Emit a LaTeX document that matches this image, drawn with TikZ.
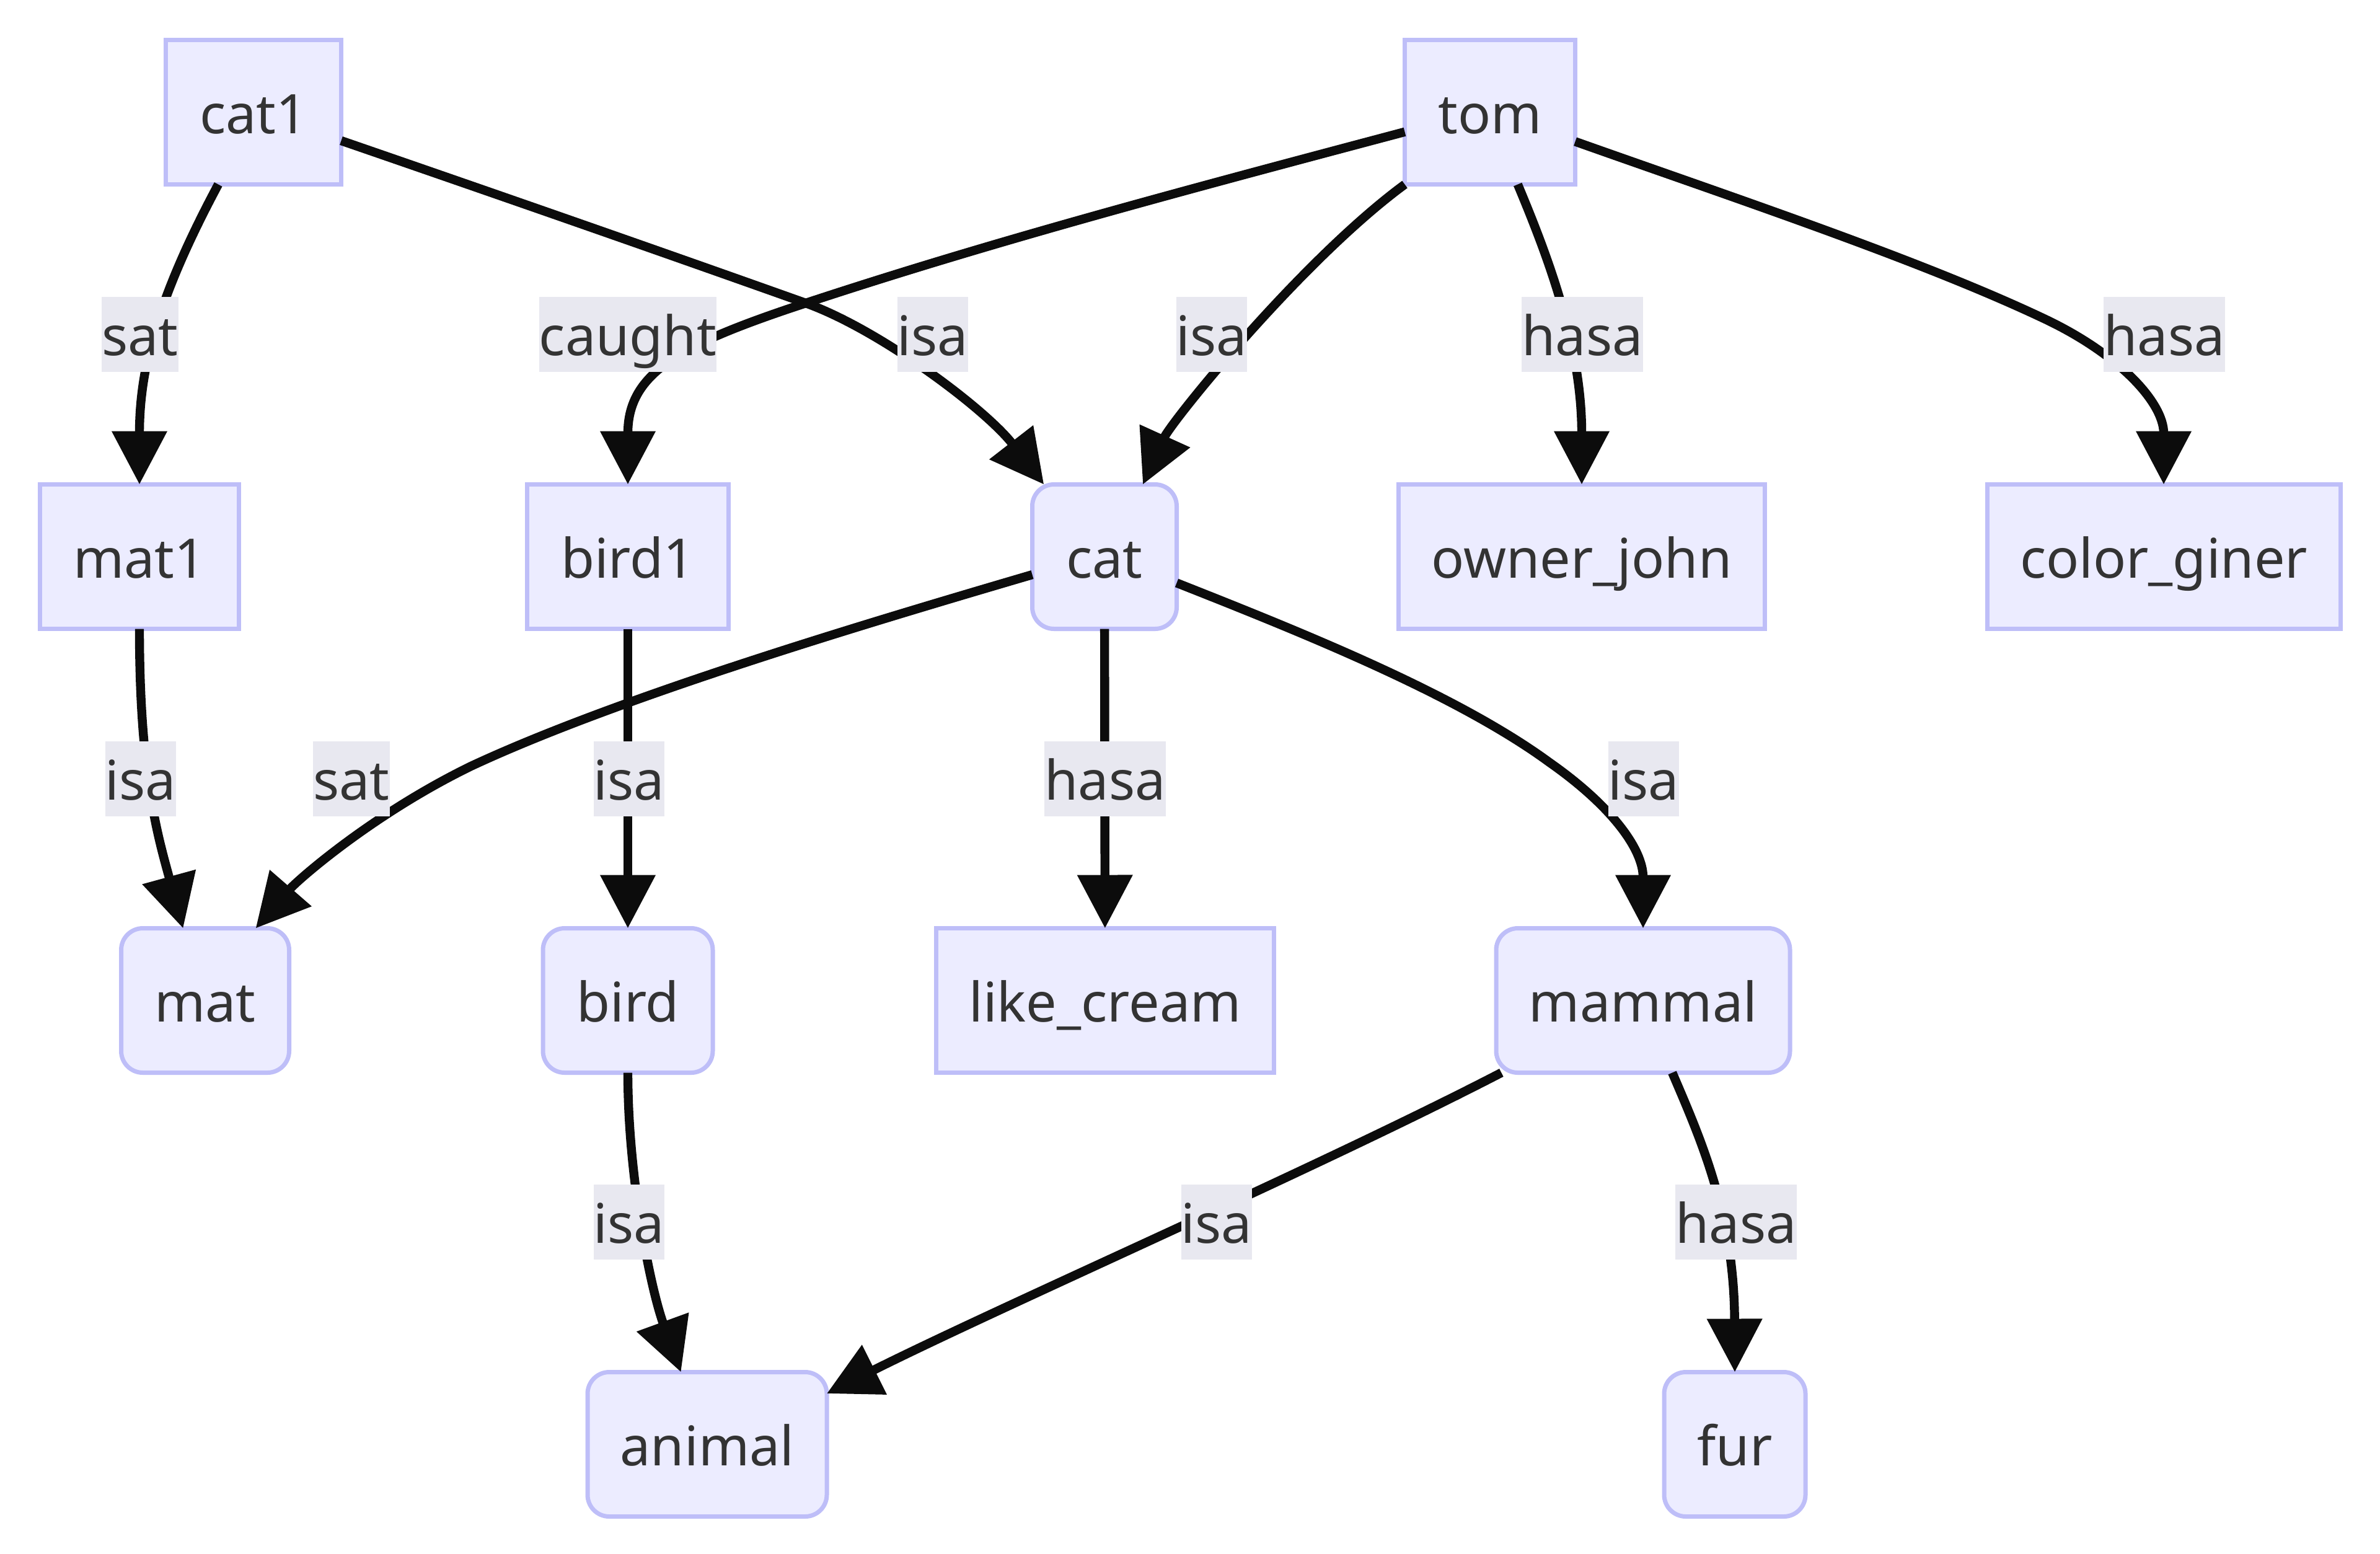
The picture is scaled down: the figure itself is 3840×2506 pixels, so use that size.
\documentclass[tikz,border=0pt]{standalone}
\usepackage{fontspec}
\setmainfont{Noto Sans}
\usetikzlibrary{arrows.meta}
\definecolor{nodefill}{RGB}{236,236,255}
\definecolor{nodeborder}{RGB}{190,190,248}
\definecolor{lblbg}{RGB}{232,232,240}
\definecolor{txt}{RGB}{51,51,51}
\definecolor{edgec}{RGB}{12,12,12}
\tikzset{
  box/.style={draw=nodeborder, fill=nodefill, line width=1.75pt, minimum height=58.25pt,
    inner sep=0pt, outer sep=0pt, text=txt, font=\fontsize{22}{26}\selectfont,
    text height=22pt, text depth=4.8pt},
  rbox/.style={box, rounded corners=8.75pt},
  lbl/.style={fill=lblbg, inner sep=0pt, outer sep=0pt, minimum height=30.25pt,
    text=txt, font=\fontsize{22}{26}\selectfont, text height=22pt, text depth=4.8pt},
  edge/.style={draw=edgec, line width=3.6pt, -{Triangle[length=21.5pt,width=21.5pt]}},
}
\begin{document}
\begin{tikzpicture}[x=0.25pt, y=-0.25pt]
\fill[white] (0,0) rectangle (3840,2506);
\useasboundingbox (0,0) rectangle (3840,2506);

% nodes
\node[box, minimum width=70.75pt] (cat1) at (409,181) {cat1};
\node[box, minimum width=68.75pt] (tom) at (2404,181) {tom};
\node[box, minimum width=80.25pt] (mat1) at (225,898) {mat1};
\node[box, minimum width=81.25pt] (bird1) at (1013,898) {bird1};
\node[rbox, minimum width=58.25pt] (cat) at (1782,898) {cat};
\node[box, minimum width=147.75pt] (owner_john) at (2552,898) {owner\_john};
\node[box, minimum width=142.5pt] (color_giner) at (3491,898) {color\_giner};
\node[rbox, minimum width=67.75pt] (mat) at (331,1614) {mat};
\node[rbox, minimum width=68.5pt] (bird) at (1013,1614) {bird};
\node[box, minimum width=136.25pt] (like_cream) at (1783,1614) {like\_cream};
\node[rbox, minimum width=118.5pt] (mammal) at (2651,1614) {mammal};
\node[rbox, minimum width=96.5pt] (animal) at (1141,2330) {animal};
\node[rbox, minimum width=57pt] (fur) at (2799,2330) {fur};

% edges
\draw[edge] (cat1.244) .. controls (260,470) and (225,586) .. (mat1.north);
\draw[edge] (cat1.-18.3) .. controls (800,313) and (1050,400) .. (1300,489)
  .. controls (1420,532) and (1590,660) .. (cat.130);
\draw[edge] (tom.193.5) .. controls (1900,310) and (1600,390) .. (1300,489)
  .. controls (1100,555) and (1013,600) .. (bird1.north);
\draw[edge] (tom.south west) .. controls (2100,420) and (1890,680) .. (cat.62.5);
\draw[edge] (tom.-69.4) .. controls (2500,420) and (2552,560) .. (owner_john.north);
\draw[edge] (tom.-19.9) .. controls (2800,320) and (3100,420) .. (3300,515)
  .. controls (3420,572) and (3491,650) .. (color_giner.north);
\draw[edge] (mat1.south) .. controls (225,1250) and (255,1350) .. (mat.107.7);
\draw[edge] (cat.194) .. controls (1400,1005) and (1000,1124) .. (760,1236)
  .. controls (600,1314) and (480,1420) .. (mat.55.1);
\draw[edge] (bird1) -- (bird);
\draw[edge] (cat) -- (like_cream);
\draw[edge] (cat.-20.2) .. controls (2100,1020) and (2350,1120) .. (2500,1230)
  .. controls (2600,1300) and (2651,1370) .. (mammal.north);
\draw[edge] (bird.south) .. controls (1013,1900) and (1050,2080) .. (animal.110.2);
\draw[edge] (mammal.207.6) .. controls (2130,1882) and (1620,2105) .. (animal.23);
\draw[edge] (mammal.-68.1) .. controls (2745,1840) and (2798,1960) .. (fur.north);

% edge labels
\node[lbl] (l1) at (226,539) {sat};
\node[lbl] (l2) at (1505,539) {isa};
\node[lbl] (l3) at (1013,539) {caught};
\node[lbl] (l4) at (1955,539) {isa};
\node[lbl] (l5) at (2553,539) {hasa};
\node[lbl] (l6) at (3492,539) {hasa};
\node[lbl] (l7) at (227,1256) {isa};
\node[lbl] (l8) at (567,1256) {sat};
\node[lbl] (l9) at (1015,1256) {isa};
\node[lbl] (l10) at (1783,1256) {hasa};
\node[lbl] (l11) at (2652,1256) {isa};
\node[lbl] (l12) at (1015,1971) {isa};
\node[lbl] (l13) at (1963,1971) {isa};
\node[lbl] (l14) at (2801,1971) {hasa};
\end{tikzpicture}
\end{document}
